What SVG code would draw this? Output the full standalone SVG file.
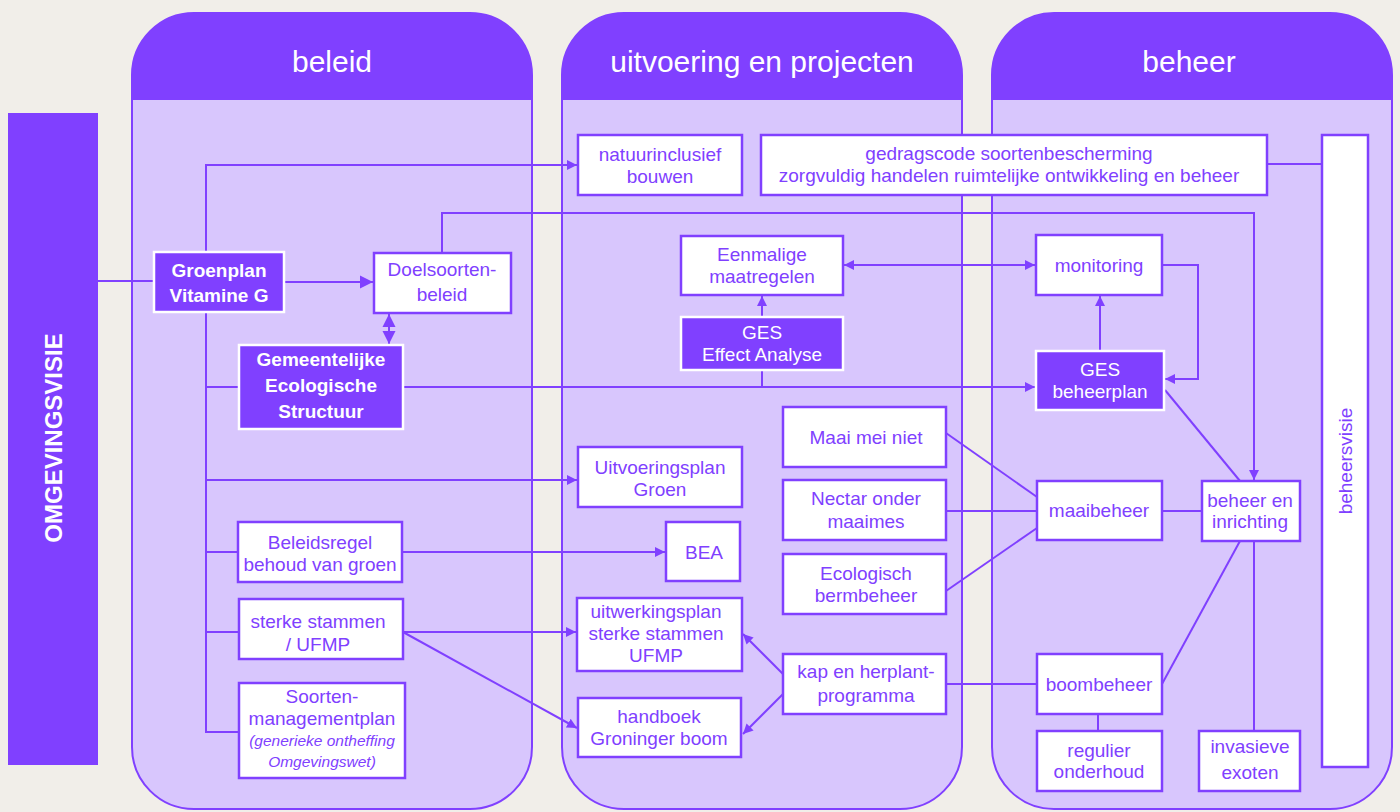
<svg xmlns="http://www.w3.org/2000/svg" width="1400" height="812" viewBox="0 0 1400 812">
<defs>
<style>
.lane{fill:#d8c6fd;stroke:#8040ff;stroke-width:2}
.hdr{fill:#8040ff}
.ht{font-family:"Liberation Sans",Arial,sans-serif;font-size:30px;fill:#ffffff;text-anchor:middle}
.box{fill:#ffffff;stroke:#8040ff;stroke-width:2.5}
.pbox{fill:#8040ff;stroke:#ffffff;stroke-width:2.5}
.t{font-family:"Liberation Sans",Arial,sans-serif;font-size:19px;fill:#8040ff;text-anchor:middle}
.tw{font-family:"Liberation Sans",Arial,sans-serif;font-size:19px;fill:#ffffff;text-anchor:middle}
.tb{font-family:"Liberation Sans",Arial,sans-serif;font-size:19px;font-weight:bold;fill:#ffffff;text-anchor:middle}
.ti{font-family:"Liberation Sans",Arial,sans-serif;font-size:15.5px;font-style:italic;fill:#8040ff;text-anchor:middle}
.c{fill:none;stroke:#8040ff;stroke-width:2}
.a{marker-end:url(#ah)}
.ab{marker-start:url(#ah);marker-end:url(#ah)}
</style>
<marker id="ah" viewBox="0 0 10 10" refX="10" refY="5" markerWidth="10" markerHeight="10" markerUnits="userSpaceOnUse" orient="auto-start-reverse">
<path d="M0,0 L10,5 L0,10 z" fill="#8040ff"/>
</marker>
<marker id="ahL" viewBox="0 0 10 10" refX="10" refY="5" markerWidth="13" markerHeight="14" markerUnits="userSpaceOnUse" orient="auto-start-reverse">
<path d="M0,0 L10,5 L0,10 z" fill="#8040ff"/>
</marker>
</defs>
<rect x="0" y="0" width="1400" height="812" fill="#f1eee9"/>

<g id="lanes">
<g id="lane-beleid">
<path class="lane" d="M132,75 A62,62 0 0 1 194,13 H470 A62,62 0 0 1 532,75 V747 A62,62 0 0 1 470,809 H194 A62,62 0 0 1 132,747 Z"/>
<path class="hdr" d="M132,75 A62,62 0 0 1 194,13 H470 A62,62 0 0 1 532,75 V100 H132 Z"/>
<text class="ht" x="332" y="72">beleid</text>
</g>
<g id="lane-uitvoering">
<path class="lane" d="M562,75 A62,62 0 0 1 624,13 H900 A62,62 0 0 1 962,75 V747 A62,62 0 0 1 900,809 H624 A62,62 0 0 1 562,747 Z"/>
<path class="hdr" d="M562,75 A62,62 0 0 1 624,13 H900 A62,62 0 0 1 962,75 V100 H562 Z"/>
<text class="ht" x="762" y="72">uitvoering en projecten</text>
</g>
<g id="lane-beheer">
<path class="lane" d="M992,75 A62,62 0 0 1 1054,13 H1330 A62,62 0 0 1 1392,75 V747 A62,62 0 0 1 1330,809 H1054 A62,62 0 0 1 992,747 Z"/>
<path class="hdr" d="M992,75 A62,62 0 0 1 1054,13 H1330 A62,62 0 0 1 1392,75 V100 H992 Z"/>
<text class="ht" x="1189" y="72">beheer</text>
</g>
</g>

<g id="omgevingsvisie">
<rect x="8" y="113" width="90" height="652" fill="#8040ff"/>
<text transform="translate(62,438) rotate(-90)" font-family="Liberation Sans, Arial, sans-serif" font-size="24" font-weight="bold" fill="#ffffff" text-anchor="middle">OMGEVINGSVISIE</text>
</g>

<g id="connectors">
<path class="c" d="M98,281 H155"/>
<path class="c a" d="M206,252 V165 H577"/>
<path class="c" d="M206,312 V732 H239"/>
<path class="c" d="M206,387 H239"/>
<path class="c a" d="M403,387 H1035"/>
<path class="c" d="M762,370 V387"/>
<path class="c a" d="M206,480 H577"/>
<path class="c" d="M206,552 H238"/>
<path class="c" d="M206,632 H238"/>
<path class="c" d="M284,282 H373" marker-end="url(#ahL)"/>
<path class="c" d="M389,314 V344" marker-start="url(#ahL)" marker-end="url(#ahL)"/>
<path class="c a" d="M442,253 V213 H1254 V480"/>
<path class="c a" d="M762,317 V296"/>
<path class="c ab" d="M844,265 H1035"/>
<path class="c a" d="M1100,351 V296"/>
<path class="c a" d="M1162,265 H1198 V379 H1165"/>
<path class="c" d="M1165,390 L1240,481"/>
<path class="c" d="M1267,164 H1322"/>
<path class="c a" d="M402,552 H665"/>
<path class="c a" d="M403,632 H576"/>
<path class="c a" d="M403,632 L577,728"/>
<path class="c a" d="M783,674 L743,634"/>
<path class="c a" d="M783,694 L743,734"/>
<path class="c" d="M946,684 H1037"/>
<path class="c" d="M946,433 L1037,497"/>
<path class="c" d="M946,511 H1037"/>
<path class="c" d="M946,591 L1037,528"/>
<path class="c" d="M1162,511 H1202"/>
<path class="c" d="M1162,684 L1240,541"/>
<path class="c" d="M1254,541 V731"/>
<path class="c" d="M1098,714 V731"/>
</g>

<g id="groenplan">
<rect class="pbox" x="154" y="252" width="130" height="60"/>
<text class="tb" x="219" y="277">Groenplan</text>
<text class="tb" x="219" y="302">Vitamine G</text>
</g>
<g id="doelsoorten">
<rect class="box" x="374" y="253" width="137" height="60"/>
<text class="t" x="442" y="276">Doelsoorten-</text>
<text class="t" x="442" y="301">beleid</text>
</g>
<g id="ges-structuur">
<rect class="pbox" x="239" y="345" width="164" height="84"/>
<text class="tb" x="321" y="366">Gemeentelijke</text>
<text class="tb" x="321" y="392">Ecologische</text>
<text class="tb" x="321" y="418">Structuur</text>
</g>
<g id="beleidsregel">
<rect class="box" x="238" y="522" width="164" height="60"/>
<text class="t" x="320" y="549">Beleidsregel</text>
<text class="t" x="320" y="571">behoud van groen</text>
</g>
<g id="sterke-stammen">
<rect class="box" x="239" y="599" width="164" height="60"/>
<text class="t" x="318" y="628">sterke stammen</text>
<text class="t" x="318" y="651">/ UFMP</text>
</g>
<g id="soortenmanagementplan">
<rect class="box" x="239" y="683" width="166" height="95"/>
<text class="t" x="322" y="703">Soorten-</text>
<text class="t" x="322" y="725">managementplan</text>
<text class="ti" x="322" y="746">(generieke ontheffing</text>
<text class="ti" x="322" y="767">Omgevingswet)</text>
</g>

<g id="natuurinclusief">
<rect class="box" x="578" y="135" width="164" height="60"/>
<text class="t" x="660" y="161">natuurinclusief</text>
<text class="t" x="660" y="183">bouwen</text>
</g>
<g id="gedragscode">
<rect class="box" x="761" y="135" width="506" height="60"/>
<text class="t" x="1009" y="160">gedragscode soortenbescherming</text>
<text class="t" x="1009" y="182">zorgvuldig handelen ruimtelijke ontwikkeling en beheer</text>
</g>
<g id="eenmalige">
<rect class="box" x="681" y="236" width="162" height="59"/>
<text class="t" x="762" y="261">Eenmalige</text>
<text class="t" x="762" y="283">maatregelen</text>
</g>
<g id="ges-ea">
<rect class="pbox" x="681" y="317" width="162" height="53"/>
<text class="tw" x="762" y="339">GES</text>
<text class="tw" x="762" y="361">Effect Analyse</text>
</g>
<g id="uitvoeringsplan">
<rect class="box" x="578" y="447" width="164" height="60"/>
<text class="t" x="660" y="474">Uitvoeringsplan</text>
<text class="t" x="660" y="496">Groen</text>
</g>
<g id="bea">
<rect class="box" x="666" y="522" width="74" height="59"/>
<text class="t" x="704" y="559">BEA</text>
</g>
<g id="uitwerkingsplan">
<rect class="box" x="577" y="598" width="165" height="73"/>
<text class="t" x="656" y="618">uitwerkingsplan</text>
<text class="t" x="656" y="640">sterke stammen</text>
<text class="t" x="656" y="662">UFMP</text>
</g>
<g id="handboek">
<rect class="box" x="578" y="698" width="163" height="59"/>
<text class="t" x="659" y="723">handboek</text>
<text class="t" x="659" y="745">Groninger boom</text>
</g>
<g id="maai-mei-niet">
<rect class="box" x="783" y="407" width="163" height="60"/>
<text class="t" x="866" y="444">Maai mei niet</text>
</g>
<g id="nectar">
<rect class="box" x="783" y="480" width="163" height="60"/>
<text class="t" x="866" y="505">Nectar onder</text>
<text class="t" x="866" y="528">maaimes</text>
</g>
<g id="ecologisch">
<rect class="box" x="783" y="554" width="163" height="60"/>
<text class="t" x="866" y="580">Ecologisch</text>
<text class="t" x="866" y="602">bermbeheer</text>
</g>
<g id="kap">
<rect class="box" x="783" y="654" width="163" height="60"/>
<text class="t" x="866" y="678">kap en herplant-</text>
<text class="t" x="866" y="702">programma</text>
</g>

<g id="monitoring">
<rect class="box" x="1036" y="235" width="126" height="60"/>
<text class="t" x="1099" y="272">monitoring</text>
</g>
<g id="ges-beheerplan">
<rect class="pbox" x="1036" y="351" width="128" height="59"/>
<text class="tw" x="1100" y="376">GES</text>
<text class="tw" x="1100" y="398">beheerplan</text>
</g>
<g id="maaibeheer">
<rect class="box" x="1037" y="481" width="125" height="59"/>
<text class="t" x="1099" y="517">maaibeheer</text>
</g>
<g id="beheer-inrichting">
<rect class="box" x="1202" y="481" width="98" height="60"/>
<text class="t" x="1250" y="507">beheer en</text>
<text class="t" x="1250" y="528">inrichting</text>
</g>
<g id="boombeheer">
<rect class="box" x="1037" y="654" width="125" height="60"/>
<text class="t" x="1099" y="691">boombeheer</text>
</g>
<g id="regulier">
<rect class="box" x="1037" y="731" width="125" height="60"/>
<text class="t" x="1099" y="757">regulier</text>
<text class="t" x="1099" y="778">onderhoud</text>
</g>
<g id="invasieve">
<rect class="box" x="1199" y="731" width="101" height="60"/>
<text class="t" x="1250" y="753">invasieve</text>
<text class="t" x="1250" y="779">exoten</text>
</g>
<g id="beheersvisie">
<rect class="box" x="1322" y="135" width="46" height="632"/>
<text class="t" transform="translate(1352,461) rotate(-90)">beheersvisie</text>
</g>
</svg>
